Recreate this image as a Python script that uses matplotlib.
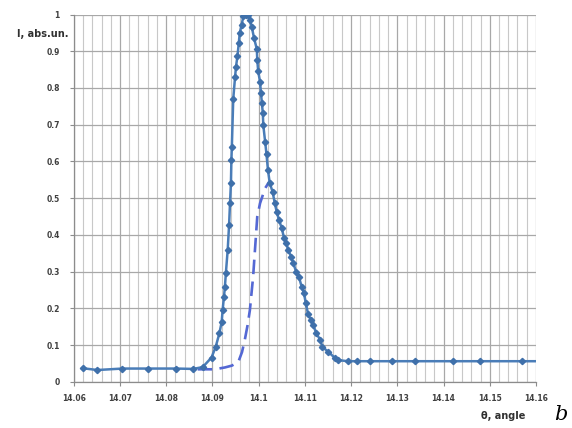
import matplotlib
matplotlib.use('Agg')
import matplotlib.pyplot as plt
from matplotlib.ticker import MultipleLocator, FuncFormatter

# measured curve (solid, with markers)
theta = [14.0619, 14.0651, 14.0705, 14.0760, 14.0821, 14.0858, 14.0879, 14.0898,
         14.0907, 14.0915, 14.0920, 14.0922, 14.0925, 14.0927, 14.0929, 14.0933,
         14.0936, 14.0938, 14.0940, 14.0941, 14.0942, 14.0945, 14.0949, 14.0951,
         14.0954, 14.0957, 14.0959, 14.0963, 14.0967, 14.0972, 14.0977, 14.0981,
         14.0985, 14.0990, 14.0996, 14.0997, 14.0999, 14.1003, 14.1005, 14.1007,
         14.1009, 14.1010, 14.1014, 14.1017, 14.1020, 14.1024, 14.1030, 14.1035,
         14.1039, 14.1044, 14.1050, 14.1055, 14.1060, 14.1064, 14.1070, 14.1075,
         14.1081, 14.1087, 14.1093, 14.1098, 14.1102, 14.1107, 14.1113, 14.1118,
         14.1125, 14.1133, 14.1138, 14.1151, 14.1165, 14.1172, 14.1193, 14.1212,
         14.1241, 14.1288, 14.1338, 14.1421, 14.1479, 14.1569, 14.1600]
intensity = [0.037, 0.032, 0.036, 0.036, 0.036, 0.035, 0.040, 0.066,
             0.095, 0.132, 0.163, 0.195, 0.232, 0.259, 0.295, 0.359,
             0.427, 0.486, 0.541, 0.604, 0.640, 0.770, 0.831, 0.858,
             0.886, 0.922, 0.949, 0.972, 0.995, 1.000, 0.998, 0.986,
             0.967, 0.936, 0.906, 0.877, 0.845, 0.817, 0.786, 0.759,
             0.731, 0.699, 0.654, 0.619, 0.578, 0.541, 0.518, 0.486,
             0.463, 0.441, 0.418, 0.391, 0.377, 0.359, 0.341, 0.323,
             0.300, 0.286, 0.259, 0.241, 0.214, 0.184, 0.168, 0.154,
             0.132, 0.114, 0.095, 0.081, 0.065, 0.059, 0.056, 0.056,
             0.056, 0.056, 0.056, 0.056, 0.056, 0.056, 0.056]

# dashed curve
theta_d = [14.0868, 14.0905, 14.0927, 14.0942, 14.0956, 14.0964, 14.0970, 14.0976,
           14.0981, 14.0988, 14.0992, 14.0997, 14.1003, 14.1014, 14.1023]
intensity_d = [0.034, 0.034, 0.039, 0.044, 0.054, 0.081, 0.114, 0.154,
               0.195, 0.286, 0.359, 0.450, 0.486, 0.527, 0.545]

fig = plt.figure(figsize=(5.72, 4.28), dpi=100)
ax = fig.add_axes([0.129, 0.108, 0.808, 0.858])

ax.plot(theta_d, intensity_d, color='#5468d4', lw=1.9, dashes=(5.5, 2.8), zorder=2)
ax.plot(theta, intensity, color='#4a7db8', lw=1.8, marker='D', ms=3.2,
        mfc='#3f70aa', mec='#3f70aa', markevery=list(range(len(theta) - 1)), zorder=3)

ax.set_xlim(14.06, 14.16)
ax.set_ylim(0, 1)
ax.xaxis.set_major_locator(MultipleLocator(0.01))
ax.xaxis.set_minor_locator(MultipleLocator(0.002))
ax.yaxis.set_major_locator(MultipleLocator(0.1))
fmt = FuncFormatter(lambda v, p: '%g' % round(v, 4))
ax.xaxis.set_major_formatter(fmt)
ax.yaxis.set_major_formatter(fmt)

ax.grid(which='major', color='#a8a8a8', lw=0.9)
ax.grid(which='minor', axis='x', color='#c8c8c8', lw=0.8)
ax.set_axisbelow(True)
for s in ['top', 'right']:
    ax.spines[s].set_visible(False)
for s in ['left', 'bottom']:
    ax.spines[s].set_color('#8c8c8c')
    ax.spines[s].set_linewidth(0.9)

ax.tick_params(which='major', length=3, color='#8c8c8c', labelsize=5.5,
               labelcolor='#404040')
ax.tick_params(axis='x', which='minor', length=0)
ax.tick_params(axis='y', pad=7)
ax.tick_params(axis='x', pad=6)
for lab in ax.get_xticklabels() + ax.get_yticklabels():
    lab.set_fontweight('bold')

fig.text(0.030, 0.921, 'I, abs.un.', fontsize=7, fontweight='bold', color='#303030',
         va='center', ha='left')
fig.text(0.919, 0.028, 'θ, angle', fontsize=7, fontweight='bold', color='#303030',
         va='center', ha='right')
fig.text(0.980, 0.032, 'b', fontsize=15, family='DejaVu Serif', style='italic',
         va='center', ha='center')

fig.savefig('out.png', dpi=100)
